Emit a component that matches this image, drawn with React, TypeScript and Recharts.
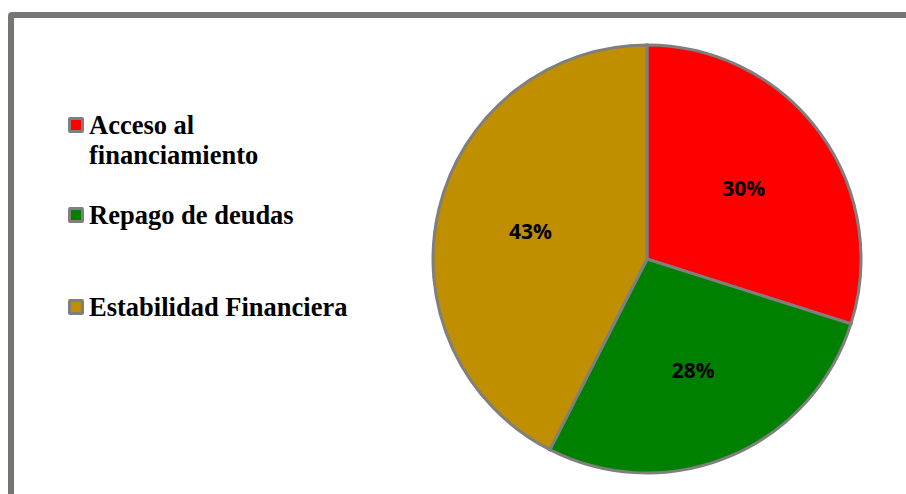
import { PieChart, Pie, Cell } from "recharts";

const categories = ["Acceso al financiamiento", "Repago de deudas", "Estabilidad Financiera"];
const shares = [29.9, 27.6, 42.5];
const sliceColors = ["#ff0000", "#008000", "#bf8f00"];

const data = categories.map((name, i) => ({ name, value: shares[i] }));

const RADIAN = Math.PI / 180;

function renderLabel(props: any) {
  const { cx, cy, midAngle, outerRadius, value } = props;
  const r = outerRadius * 0.56;
  const x = cx + r * Math.cos(-midAngle * RADIAN);
  const y = cy + r * Math.sin(-midAngle * RADIAN);
  return (
    <text
      x={x}
      y={y}
      textAnchor="middle"
      dominantBaseline="central"
      fill="#000"
      style={{ fontFamily: "'Open Sans', sans-serif", fontWeight: 700, fontSize: 21 }}
    >
      {`${Math.round(value)}%`}
    </text>
  );
}

// space above each legend entry, like the spreadsheet layout
const legendGaps = [0, 30, 62];

function ChartLegend() {
  return (
    <div style={{ position: "absolute", left: 68, top: 110, width: 320 }}>
      {categories.map((name, i) => (
        <div
          key={name}
          style={{
            display: "flex",
            alignItems: "flex-start",
            marginTop: legendGaps[i],
            fontFamily: "'Liberation Serif', 'Times New Roman', serif",
            fontWeight: 700,
            fontSize: 26.5,
            lineHeight: "30px",
            color: "#000",
          }}
        >
          <span
            style={{
              display: "inline-block",
              width: 10,
              height: 10,
              marginTop: 7,
              marginRight: 5,
              background: sliceColors[i],
              border: "3px solid #7f7f7f",
              borderRadius: 2,
              flexShrink: 0,
            }}
          />
          <span style={{ width: i === 0 ? 200 : 300 }}>{name}</span>
        </div>
      ))}
    </div>
  );
}

export default function App() {
  return (
    <div style={{ position: "fixed", left: 0, top: 0, width: 906, height: 494, overflow: "hidden", background: "#fff" }}>
      <div
        style={{
          position: "absolute",
          left: 8,
          top: 12,
          width: 940,
          height: 540,
          border: "6px solid #787474",
          borderRadius: 4,
        }}
      />
      <div style={{ position: "absolute", left: 0, top: 0 }}>
        <PieChart width={906} height={494} margin={{ top: 0, right: 0, bottom: 0, left: 0 }}>
          <Pie
            data={data}
            dataKey="value"
            nameKey="name"
            cx={647}
            cy={259}
            outerRadius={214}
            startAngle={90}
            endAngle={-270}
            stroke="#7f7f7f"
            strokeWidth={3}
            label={renderLabel}
            labelLine={false}
            isAnimationActive={false}
          >
            {data.map((d, i) => (
              <Cell key={d.name} fill={sliceColors[i]} />
            ))}
          </Pie>
        </PieChart>
      </div>
      <ChartLegend />
    </div>
  );
}
